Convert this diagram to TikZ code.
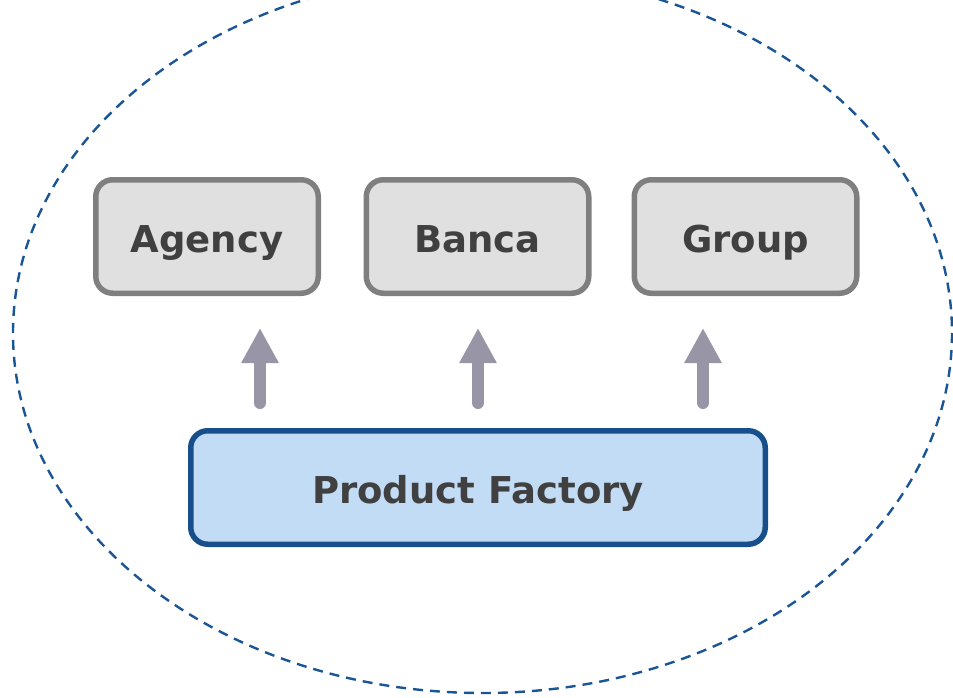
\documentclass[tikz,border=0pt]{standalone}
\usepackage{fontspec}
\setmainfont{DejaVu Sans}
\usetikzlibrary{arrows.meta}
\definecolor{boxfill}{RGB}{224,224,224}
\definecolor{boxline}{RGB}{127,127,127}
\definecolor{txt}{RGB}{64,64,64}
\definecolor{pffill}{RGB}{195,220,245}
\definecolor{pfline}{RGB}{23,79,140}
\definecolor{ellcol}{RGB}{26,85,150}
\definecolor{arrcol}{RGB}{152,150,166}
\tikzset{
  chanbox/.style={draw=boxline, fill=boxfill, line width=5.5pt, rounded corners=17pt,
    minimum width=222.5pt, minimum height=113.5pt, inner sep=0pt,
    text=txt, font=\fontsize{37}{42}\selectfont\bfseries, text height=31pt, text depth=0pt},
  pfbox/.style={chanbox, draw=pfline, fill=pffill, minimum width=574.5pt},
  bigarrow/.style={draw=arrcol, line width=12pt, line cap=round,
    -{Triangle[length=35pt,width=35pt]}},
  ellline/.style={draw=ellcol, line width=2.4pt, dash pattern=on 10pt off 7pt}
}
\begin{document}
\begin{tikzpicture}[x=1pt,y=-1pt]
\useasboundingbox (0,0) rectangle (953,698);
\draw[ellline] (482.5,333) ellipse [x radius=469.5, y radius=360];
\node[chanbox] (ag) at (207,236.5) {Agency};
\node[chanbox] (ba) at (477.5,236.5) {Banca};
\node[chanbox] (gr) at (745.5,236.5) {Group};
\node[pfbox] (pf) at (478,487.5) {Product Factory};
\coordinate (s1) at (260,403); \coordinate (e1) at (260,328);
\coordinate (s2) at (478,403); \coordinate (e2) at (478,328);
\coordinate (s3) at (703,403); \coordinate (e3) at (703,328);
\draw[bigarrow] (s1) -- (e1);
\draw[bigarrow] (s2) -- (e2);
\draw[bigarrow] (s3) -- (e3);
\end{tikzpicture}
\end{document}
